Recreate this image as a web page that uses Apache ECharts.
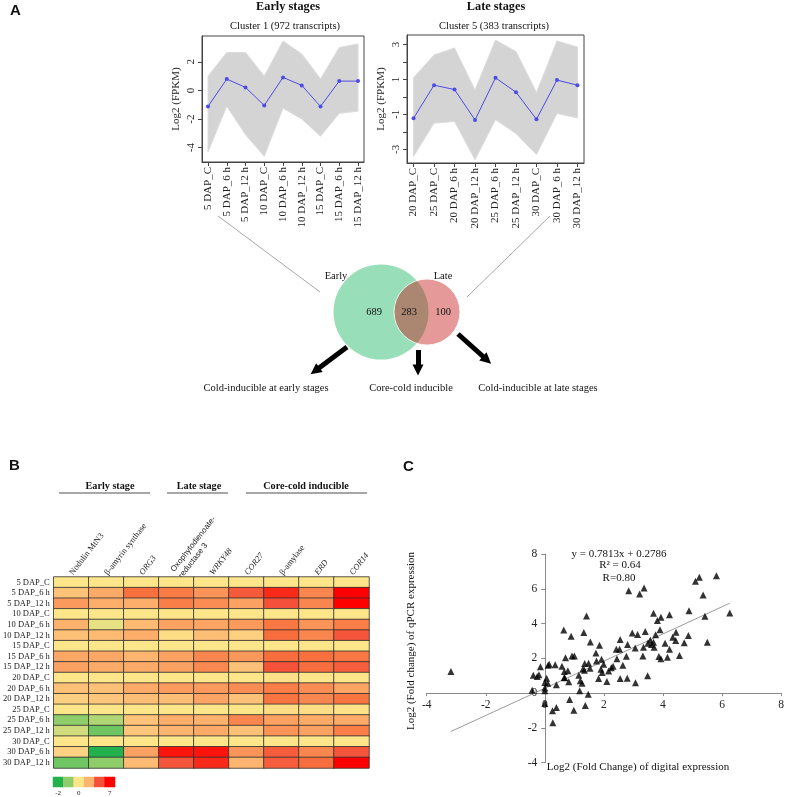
<!DOCTYPE html>
<html>
<head>
<meta charset="UTF-8">
<script src="https://cdn.jsdelivr.net/npm/echarts@6/dist/echarts.min.js"></script>
<style>
  html, body { margin: 0; padding: 0; background: #fff; }
  #main { width: 787px; height: 797px; }
</style>
</head>
<body>
<div id="main"></div>
<script>
// ---- panel A : cluster profiles (mean line + envelope of the transcripts)
var earlyLabels = ['5 DAP_C', '5 DAP_6 h', '5 DAP_12 h', '10 DAP_C', '10 DAP_6 h', '10 DAP_12 h', '15 DAP_C', '15 DAP_6 h', '15 DAP_12 h'];
var earlyMean  = [-1.12, 0.79, 0.21, -1.05, 0.91, 0.35, -1.12, 0.65, 0.65];
var earlyUpper = [1.0, 2.65, 2.65, 1.0, 3.45, 2.55, 0.8, 3.0, 3.25];
var earlyLower = [-4.3, -1.1, -3.1, -4.6, -1.25, -2.0, -3.2, -1.6, -1.45];

var lateLabels = ['20 DAP_C', '25 DAP_C', '20 DAP_6 h', '20 DAP_12 h', '25 DAP_6 h', '25 DAP_12 h', '30 DAP_C', '30 DAP_6 h', '30 DAP_12 h'];
var lateMean  = [-1.22, 0.67, 0.42, -1.32, 1.09, 0.27, -1.28, 0.96, 0.67];
var lateUpper = [1.1, 2.4, 2.8, 0.4, 3.25, 2.6, 0.25, 3.2, 2.85];
var lateLower = [-3.4, -1.5, -1.4, -3.6, -1.3, -2.1, -3.3, -0.95, -1.2];

// venn counts
var vennSets = ['Early', 'Late'];
var vennOnly = [689, 100];
var vennShared = 283;
var vennGroups = ['Cold-inducible at early stages', 'Core-cold inducible', 'Cold-inducible at late stages'];

// ---- panel B : heatmap (log2 fold change)
var genes = ['Nodulin MtN3', 'β-amyrin synthase', 'ORG3', 'Oxophytodienoate-\nreductase 3', 'WRKY48', 'COR27', 'β-amylase', 'ERD', 'COR14'];
var italicGenes = ['ORG3', 'WRKY48', 'COR27', 'ERD', 'COR14'];
var stages = ['5 DAP_C', '5 DAP_6 h', '5 DAP_12 h', '10 DAP_C', '10 DAP_6 h', '10 DAP_12 h', '15 DAP_C', '15 DAP_6 h', '15 DAP_12 h',
              '20 DAP_C', '20 DAP_6 h', '20 DAP_12 h', '25 DAP_C', '25 DAP_6 h', '25 DAP_12 h', '30 DAP_C', '30 DAP_6 h', '30 DAP_12 h'];
var heat = [
  [0, 0, 0, 0, 0, 0, 0, 0, 0],
  [1.5, 2.3, 4.0, 3.7, 3.0, 4.7, 6.0, 3.4, 7.0],
  [2.8, 2.2, 2.2, 3.6, 3.2, 2.6, 5.0, 3.4, 7.0],
  [0, 0, 0, 0, 0, 0, 0, 0, 0],
  [2.1, -0.2, 1.8, 2.6, 2.5, 2.8, 3.8, 3.0, 3.6],
  [1.6, 1.8, 2.2, 0.4, 1.7, 1.1, 4.1, 3.4, 4.8],
  [0, 0, 0, 0, 0, 0, 0, 0, 0],
  [2.4, 2.4, 2.0, 2.6, 3.4, 2.9, 4.1, 4.0, 3.8],
  [2.6, 2.3, 2.3, 2.6, 3.3, 1.6, 4.9, 4.1, 4.6],
  [0, 0, 0, 0, 0, 0, 0.3, 0, 0],
  [1.6, 1.6, 2.3, 2.8, 2.8, 3.2, 3.6, 3.2, 2.5],
  [1.1, 1.4, 1.7, 1.7, 2.5, 1.6, 3.9, 3.4, 3.9],
  [0, 0, 0, 0, 0, 0, 0.5, 0.4, 0.2],
  [-1.0, -0.7, 1.5, 2.2, 2.1, 3.4, 2.6, 2.3, 2.3],
  [-0.4, -1.3, 1.4, 2.0, 2.3, 1.6, 3.0, 2.6, 3.6],
  [0, 0, 0, 0, 0, 0, 0, 0, 0],
  [1.0, -2.0, 2.6, 6.5, 6.5, 3.0, 4.6, 3.4, 4.8],
  [-1.3, -1.0, 1.8, 4.8, 6.0, 2.0, 4.6, 4.1, 7.0]
];
var scaleSteps = [-2, -1, 0, 2, 5, 7];
var scaleLabels = ['-2', '', '0', '', '', '7'];

// ---- panel C : digital vs qPCR fold change
var digitalFC = [-3.18, 1.41, 0.64, 1.32, 0.89, 1.54, 1.85, 1.73, 0.70, 0.92, 1.00, 0.11, 0.15, 0.35, -0.15, -0.39, -0.20, -0.26,
  0.58, 0.66, 0.78, 1.35, 1.48, 1.34, 1.53, 1.75, 1.92, 1.99, 1.15, 0.66, 0.81, 1.20, 1.26, 1.82, 2.10, 0.00, 0.10, 0.39,
  0.00, 0.00, -0.43, 0.00, 1.18, 1.47, 0.84, 1.37, 0.39, 0.26, 0.98, 0.27, 0.06, 0.67, 1.29, 1.90, 1.94,
  5.81, 5.23, 5.10, 5.36, 2.84, 3.21, 3.36, 3.68, 4.22, 3.81, 3.93, 4.88, 6.26, 5.42, 5.50, 3.90, 3.40, 2.96, 3.14,
  4.44, 4.33, 4.43, 4.86, 4.72, 4.07, 3.75, 3.57, 3.68, 3.49, 3.61, 3.70, 2.80, 2.55, 3.06, 3.34, 2.42, 2.53, 4.22,
  2.76, 3.32, 3.86, 3.93, 4.15, 4.56, 2.44, 2.64, 2.31, 2.25, 2.16, 2.55, 2.79, 3.07, 3.48];
var qpcrFC = [1.24, 4.44, 3.63, 3.48, 3.27, 2.94, 2.75, 2.31, 2.03, 2.14, 2.14, 1.61, 1.66, 1.63, 1.51, 1.03, 1.05, 0.96,
  1.55, 1.24, 1.28, 1.70, 1.72, 1.32, 1.43, 1.85, 1.95, 1.66, 1.03, 0.90, 0.65, 0.71, 0.57, 0.84, 0.67, 0.61, 0.57, 0.48,
  0.29, 0.13, 0.17, -0.60, 0.13, -0.06, -0.36, -0.71, -0.82, -1.01, -0.98, -1.70, 0.86, 0.88, 1.39, 1.38, 1.19,
  6.75, 6.66, 6.43, 5.64, 5.89, 5.70, 6.04, 4.59, 4.50, 4.17, 4.36, 4.74, 4.61, 4.42, 2.92, 3.65, 3.54, 3.46, 3.37,
  3.50, 3.21, 3.02, 3.31, 2.89, 2.87, 3.35, 3.06, 2.93, 2.87, 2.79, 2.64, 2.79, 3.08, 2.60, 2.64, 2.52, 2.52, 2.52,
  2.12, 2.14, 2.10, 1.97, 2.07, 2.16, 1.97, 1.61, 1.55, 1.46, 1.27, 0.84, 0.86, 0.59, 1.00];
var fitSlope = 0.7813;
var fitIntercept = 0.2786;

var SERIF = 'Liberation Serif';
var SANS = 'Liberation Sans';

function idx(n) { var a = []; for (var i = 0; i < n; i++) a.push(i); return a; }
function pts(arr) { return arr.map(function (v, i) { return [i, v]; }); }

function profileX(grid, labels) {
  return {
    gridIndex: grid, type: 'value', min: -0.32, max: 8.32,
    axisLine: { show: true, onZero: false, lineStyle: { color: '#444' } }, splitLine: { show: false },
    axisTick: { show: true, customValues: idx(9), length: 4, lineStyle: { color: '#444' } },
    axisLabel: { customValues: idx(9), rotate: 90, margin: 5, fontFamily: SERIF, fontSize: 11, color: '#222',
      formatter: function (v) { return labels[Math.round(v)]; } }
  };
}
function profileY(grid, min, max, ticks, labels) {
  return {
    gridIndex: grid, type: 'value', min: min, max: max,
    axisLine: { show: true, onZero: false, lineStyle: { color: '#444' } }, splitLine: { show: false },
    axisTick: { show: true, customValues: ticks, length: 4, lineStyle: { color: '#444' } },
    axisLabel: { customValues: labels, rotate: 90, margin: 5, fontFamily: SERIF, fontSize: 11, color: '#222' },
    name: 'Log2 (FPKM)', nameLocation: 'middle', nameGap: 20,
    nameTextStyle: { fontFamily: SERIF, fontSize: 11, color: '#222' }
  };
}
// grey envelope of all transcripts of the cluster + blue mean profile
function profileSeries(grid, mean, up, lo) {
  return [
    { type: 'custom', xAxisIndex: grid, yAxisIndex: grid, data: [[0, 0]], silent: true, z: 1,
      renderItem: function (params, api) {
        var p = [];
        up.forEach(function (v, i) { p.push(api.coord([i, v])); });
        for (var i = lo.length - 1; i >= 0; i--) p.push(api.coord([i, lo[i]]));
        return { type: 'polygon', shape: { points: p }, style: { fill: '#d4d4d4', stroke: '#dcdcdc', lineWidth: 1 } };
      } },
    { type: 'line', xAxisIndex: grid, yAxisIndex: grid, data: pts(mean), symbol: 'circle', symbolSize: 4,
      itemStyle: { color: '#4b4be6' }, lineStyle: { color: '#4b4be6', width: 1 }, z: 5 }
  ];
}

var heatData = [];
heat.forEach(function (row, r) { row.forEach(function (v, c) { heatData.push([c, r, v]); }); });

var xMin = Math.min.apply(null, digitalFC), xMax = Math.max.apply(null, digitalFC);
var fitLine = [[xMin, fitSlope * xMin + fitIntercept], [xMax, fitSlope * xMax + fitIntercept]];

// scatter grid: axes cross at 0, moved in with offset
var sc = { left: 426.7, top: 554, width: 355.6, height: 208.7, min: -4, max: 8 };
var xAxisShift = -(0 - sc.min) / (sc.max - sc.min) * sc.height;
var yAxisShift = -(0 - sc.min) / (sc.max - sc.min) * sc.width;

// diagram layout (pixels of the overlay grid)
var vennPos = [[381, 312], [427, 312]];
var vennSize = [95, 66];
var vennColor = ['#7dd6a8', 'rgba(196,22,22,0.55)'];

function txt(x, y, s, size, opt) {
  opt = opt || {};
  return {
    type: 'text', x: x, y: y, rotation: opt.rot || 0, z: 10,
    style: { text: s, fontFamily: opt.font || SERIF, fontSize: size, fontWeight: opt.bold ? 'bold' : 'normal',
      fill: '#111', align: opt.align || 'center', verticalAlign: 'middle' }
  };
}
function hline(x1, x2, y) {
  return { type: 'line', shape: { x1: x1, y1: y, x2: x2, y2: y }, style: { stroke: '#8a8a8a', lineWidth: 1.6 } };
}

var series = profileSeries(0, earlyMean, earlyUpper, earlyLower)
  .concat(profileSeries(1, lateMean, lateUpper, lateLower));
var heatIndex = series.length;
series = series.concat([
  { type: 'heatmap', xAxisIndex: 2, yAxisIndex: 2, data: heatData,
    itemStyle: { borderColor: '#2f2f2f', borderWidth: 0.8 } },
  { type: 'heatmap', xAxisIndex: 3, yAxisIndex: 3,
    data: scaleSteps.map(function (v, i) { return [i, 0, v]; }) },
  { type: 'scatter', xAxisIndex: 4, yAxisIndex: 4, symbol: 'triangle', symbolSize: 7,
    itemStyle: { color: '#000' },
    data: digitalFC.map(function (x, i) { return [x, qpcrFC[i]]; }), z: 4 },
  { type: 'line', xAxisIndex: 4, yAxisIndex: 4, data: fitLine, symbol: 'none',
    lineStyle: { color: '#9a9a9a', width: 1 }, z: 3 },
  { type: 'scatter', xAxisIndex: 5, yAxisIndex: 5, symbol: 'circle',
    data: vennSets.map(function (s, i) {
      return { name: s, value: vennPos[i], symbolSize: vennSize[i],
        itemStyle: { color: vennColor[i], borderColor: i ? '#fff' : 'transparent', borderWidth: i ? 1 : 0 } };
    }), z: 2, silent: true },
  { type: 'lines', coordinateSystem: 'cartesian2d', xAxisIndex: 5, yAxisIndex: 5,
    lineStyle: { color: '#222', width: 0.8 },
    data: [{ coords: [[218, 216], [320, 292]] }, { coords: [[550, 216], [467, 297]] }] },
  { type: 'lines', coordinateSystem: 'cartesian2d', xAxisIndex: 5, yAxisIndex: 5,
    symbol: ['none', 'triangle'], symbolSize: [15, 11],
    lineStyle: { color: '#000', width: 5, opacity: 1 }, itemStyle: { color: '#000' },
    data: [{ coords: [[347, 347], [315, 371]] }, { coords: [[418, 350], [418, 370]] }, { coords: [[458, 334], [487, 360]] }] }
]);

var chart = echarts.init(document.getElementById('main'));
chart.setOption({
  animation: false,
  grid: [
    { left: 202, top: 36, width: 162, height: 126, show: true, borderColor: '#444', borderWidth: 1 },
    { left: 407, top: 35, width: 177, height: 128, show: true, borderColor: '#444', borderWidth: 1 },
    { left: 53, top: 577, width: 316, height: 191 },
    { left: 53, top: 777, width: 62, height: 10 },
    { left: sc.left, top: sc.top, width: sc.width, height: sc.height },
    { left: 0, top: 0, width: 787, height: 797 }
  ],
  xAxis: [
    profileX(0, earlyLabels),
    profileX(1, lateLabels),
    { gridIndex: 2, type: 'category', data: genes, position: 'top',
      axisLine: { show: false }, axisTick: { show: false }, splitLine: { show: false },
      axisLabel: { interval: 0, rotate: -52, margin: 3, color: '#222',
        formatter: function (v) {
          var k = italicGenes.indexOf(v) >= 0 ? 'i' : (v.indexOf('\n') >= 0 ? 's' : 'n');
          return v.split('\n').map(function (p) { return '{' + k + '|' + p + '}'; }).join('\n');
        },
        rich: {
          n: { fontFamily: SERIF, fontSize: 8.5, color: '#222' },
          i: { fontFamily: SERIF, fontSize: 8.5, fontStyle: 'italic', color: '#222' },
          s: { fontFamily: SANS, fontSize: 8, color: '#222', lineHeight: 10 }
        } } },
    { gridIndex: 3, type: 'category', data: scaleLabels,
      axisLine: { show: false }, axisTick: { show: false },
      axisLabel: { interval: 0, margin: 3, fontFamily: SERIF, fontSize: 7, color: '#222' } },
    { gridIndex: 4, type: 'value', min: sc.min, max: sc.max, interval: 2, offset: xAxisShift,
      axisLine: { onZero: false, lineStyle: { color: '#8a8a8a', width: 1 } },
      axisTick: { show: true, length: 3, lineStyle: { color: '#8a8a8a' } },
      splitLine: { show: false },
      axisLabel: { margin: 6, fontFamily: SERIF, fontSize: 11.5, color: '#222' } },
    { gridIndex: 5, type: 'value', min: 0, max: 787, show: false }
  ],
  yAxis: [
    profileY(0, -5, 3.8, [-4, -2, 0, 2], [-4, -2, 0, 2]),
    profileY(1, -3.78, 3.54, [-3, -2, -1, 0, 1, 2, 3], [-3, -1, 1, 3]),
    { gridIndex: 2, type: 'category', data: stages, inverse: true,
      axisLine: { show: false }, axisTick: { show: false },
      axisLabel: { interval: 0, margin: 4, fontFamily: SERIF, fontSize: 8.5, color: '#222' } },
    { gridIndex: 3, type: 'category', data: [''], show: false },
    { gridIndex: 4, type: 'value', min: sc.min, max: sc.max, interval: 2, offset: yAxisShift,
      axisLine: { onZero: false, lineStyle: { color: '#8a8a8a', width: 1 } },
      axisTick: { show: true, length: 4, lineStyle: { color: '#8a8a8a' } },
      splitLine: { show: false },
      axisLabel: { margin: 8, fontFamily: SERIF, fontSize: 11.5, color: '#222' } },
    { gridIndex: 5, type: 'value', min: 0, max: 797, inverse: true, show: false }
  ],
  visualMap: {
    show: false, type: 'continuous', min: -2, max: 7, dimension: 2, seriesIndex: [heatIndex, heatIndex + 1],
    inRange: { color: ['#22b14c', '#8fcd6a', '#fde68a', '#fdd282', '#fcb46e', '#fa9458', '#f8703e', '#f4503a', '#fa2a1a', '#ff0000'] }
  },
  series: series,
  graphic: [
    txt(10, 11, 'A', 15, { font: SANS, bold: true, align: 'left' }),
    txt(288, 7, 'Early stages', 12.3, { bold: true }),
    txt(285, 26, 'Cluster 1 (972 transcripts)', 10.5),
    txt(496, 7, 'Late stages', 12.3, { bold: true }),
    txt(494, 26, 'Cluster 5 (383 transcripts)', 10.5),
    txt(336, 276, vennSets[0], 10.5),
    txt(443, 276, vennSets[1], 10.5),
    txt(374, 312, String(vennOnly[0]), 10.5),
    txt(409, 312, String(vennShared), 10.5),
    txt(443, 312, String(vennOnly[1]), 10.5),
    txt(266, 388, vennGroups[0], 10.5),
    txt(411, 388, vennGroups[1], 10.5),
    txt(538, 388, vennGroups[2], 10.5),
    txt(9, 466, 'B', 15, { font: SANS, bold: true, align: 'left' }),
    txt(110, 486, 'Early stage', 10.2, { bold: true }),
    txt(199, 486, 'Late stage', 10.2, { bold: true }),
    txt(306, 486, 'Core-cold inducible', 10.2, { bold: true }),
    hline(59, 150, 493), hline(167, 228, 493), hline(246, 367, 493),
    txt(403, 467, 'C', 15, { font: SANS, bold: true, align: 'left' }),
    txt(619, 554, 'y = 0.7813x + 0.2786', 11),
    txt(620, 565, 'R² = 0.64', 11),
    txt(619, 578, 'R=0.80', 11),
    txt(638, 767, 'Log2 (Fold Change) of digital expression', 11),
    txt(411, 641, 'Log2 (Fold change) of qPCR expression', 11, { rot: Math.PI / 2 })
  ]
});
</script>
</body>
</html>
